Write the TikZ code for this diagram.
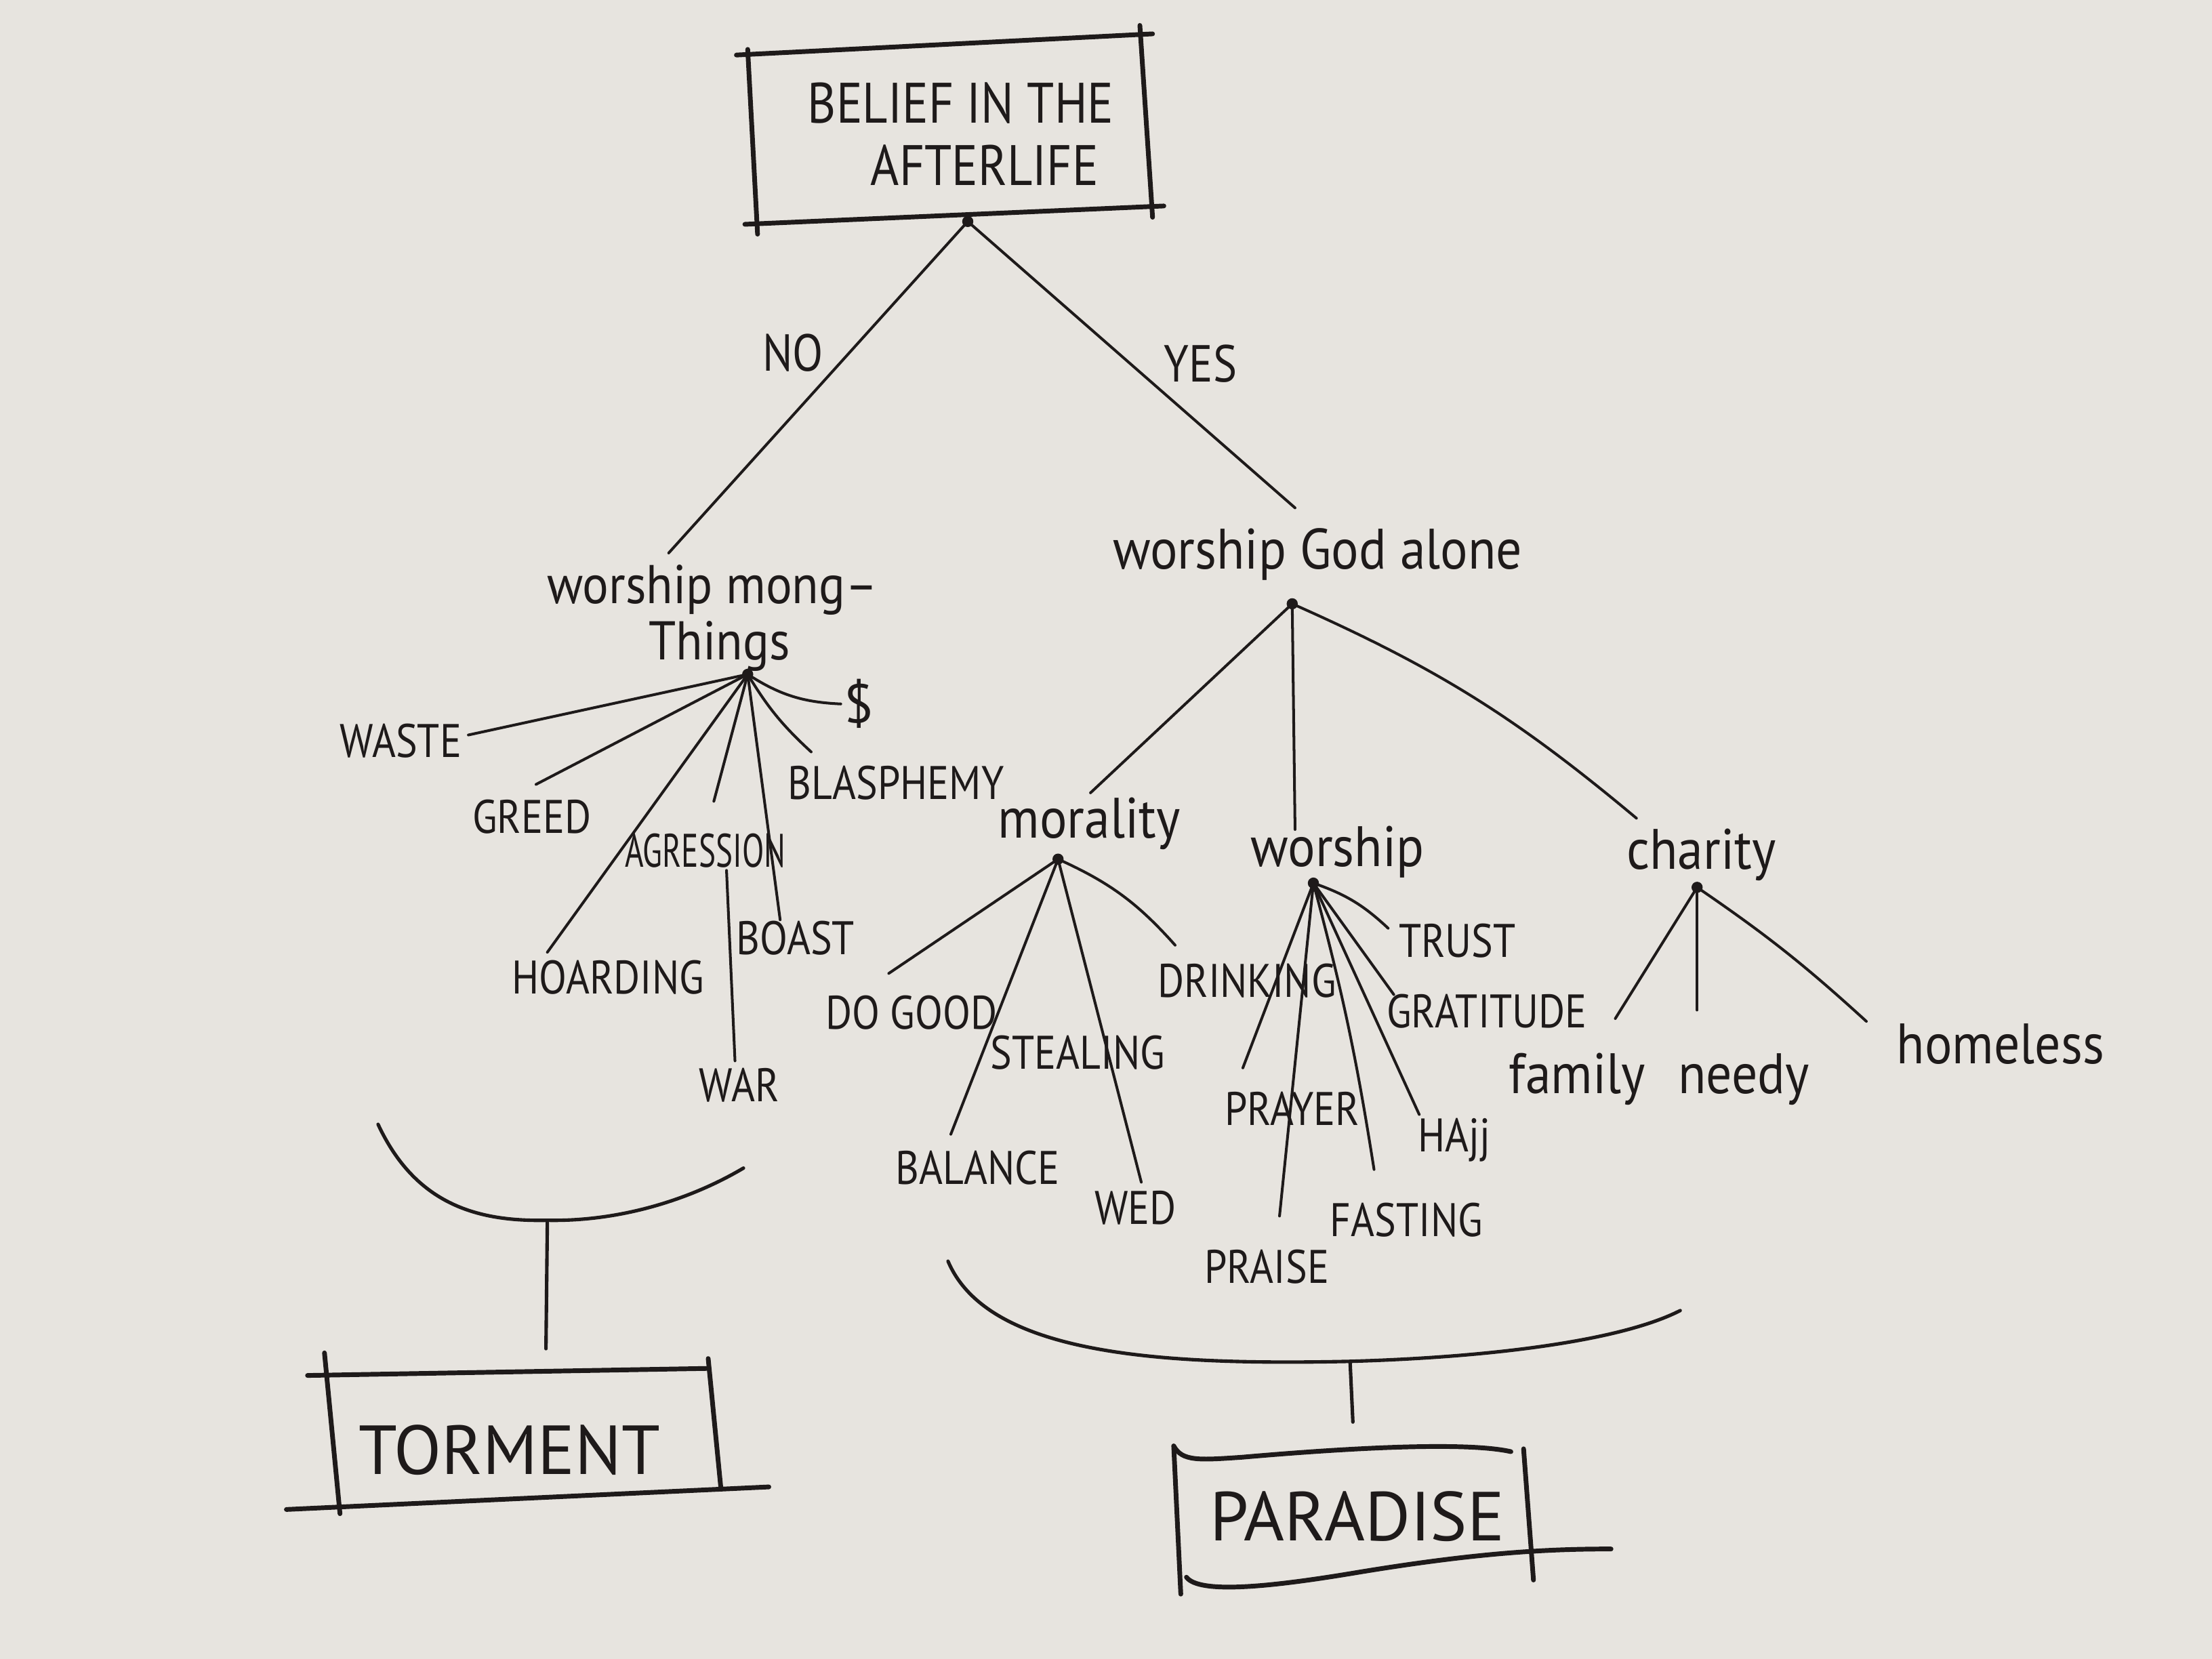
\documentclass[tikz,border=0pt]{standalone}
\usepackage{fontspec}
\setmainfont{PT Sans}
\newfontfamily\condA[FakeStretch=0.86]{PT Sans}
\newfontfamily\condB[FakeStretch=0.68]{PT Sans}
\newfontfamily\condL[FakeStretch=0.9]{PT Sans}
\definecolor{paper}{RGB}{231,228,223}
\definecolor{inkc}{RGB}{30,26,26}
\begin{document}
\begin{tikzpicture}[x=0.02cm,y=-0.02cm,
  conn/.style={draw=inkc,line width=1.1pt,line cap=round},
  frame/.style={draw=inkc,line width=1.9pt,line cap=round},
  brace/.style={draw=inkc,line width=1.4pt,line cap=round},
  hubdot/.style={circle,fill=inkc,inner sep=0pt,minimum size=4.5pt},
  caps/.style={text=inkc,inner sep=0pt,font=\condA\fontsize{19}{21}\selectfont},
  low/.style={text=inkc,inner sep=0pt,font=\condL\fontsize{23}{25}\selectfont},
  big/.style={text=inkc,inner sep=0pt,font=\fontsize{28}{30}\selectfont},
  ttl/.style={text=inkc,inner sep=0pt,font=\condA\fontsize{23}{25}\selectfont},
]
\fill[paper] (0,0) rectangle (1568,1176);
\useasboundingbox (0,0) rectangle (1568,1176);

% ---------- title box ----------
\node[ttl] (t1) at (681,73) {BELIEF IN THE};
\node[ttl] (t2) at (698,117) {AFTERLIFE};
\draw[frame] (522,39) -- (817,24);
\draw[frame] (530,35) -- (537,166);
\draw[frame] (808,18) -- (817,154);
\draw[frame] (528,159) -- (825,146);
\node[hubdot] (root) at (686,157) {};

% ---------- first split ----------
\coordinate (wmtIn) at (474,392);
\coordinate (wgaIn) at (918,360);
\draw[conn] (root.center) -- (wmtIn);
\draw[conn] (root.center) -- (wgaIn);
\node[caps,font=\condA\fontsize{21}{23}\selectfont] (no) at (562,250) {NO};
\node[caps,font=\condA\fontsize{21}{23}\selectfont] (yes) at (851,258) {YES};

% ---------- left branch ----------
\node[low,font=\condL\fontsize{22}{24}\selectfont] (wmt1) at (505,418) {worship mong–};
\node[low,font=\condL\fontsize{22}{24}\selectfont] (wmt2) at (510,458) {Things};
\node[hubdot] (hL) at (530,478) {};

\node[caps] (waste) at (284,525) {WASTE};
\node[caps] (greed) at (377,579) {GREED};
\node[caps] (hoard) at (431,693) {HOARDING};
\node[caps,font=\condB\fontsize{19}{21}\selectfont] (agr) at (500,603) {AGRESSION};
\node[caps] (war) at (524,769) {WAR};
\node[caps] (boast) at (564,665) {BOAST};
\node[caps] (blas) at (635,555) {BLASPHEMY};
\node[caps,font=\fontsize{22}{24}\selectfont] (dollar) at (609,499) {\$};

\coordinate (wasteIn) at (332,521);
\coordinate (greedIn) at (380,556);
\coordinate (hoardIn) at (388,675);
\coordinate (agrIn) at (506,568);
\coordinate (agrOut) at (515,617);
\coordinate (warIn) at (521,752);
\coordinate (boastIn) at (553,652);
\coordinate (blasIn) at (575,533);
\coordinate (dollarIn) at (596,499);

\draw[conn] (hL.center) -- (wasteIn);
\draw[conn] (hL.center) -- (greedIn);
\draw[conn] (hL.center) -- (hoardIn);
\draw[conn] (hL.center) -- (agrIn);
\draw[conn] (agrOut) -- (warIn);
\draw[conn] (hL.center) -- (boastIn);
\draw[conn] (hL.center) to[bend right=8] (blasIn);
\draw[conn] (hL.center) to[bend right=15] (dollarIn);

% ---------- right branch ----------
\node[low] (wga) at (934,393) {worship God alone};
\node[hubdot] (hR) at (916,428) {};

\node[low] (mor) at (772,584) {morality};
\node[low] (wor) at (948,604) {worship};
\node[low] (cha) at (1206,606) {charity};
\coordinate (morIn) at (773,562);
\coordinate (worIn) at (918,588);
\coordinate (chaIn) at (1160,580);
\draw[conn] (hR.center) -- (morIn);
\draw[conn] (hR.center) -- (worIn);
\draw[conn] (hR.center) to[bend left=8] (chaIn);

% morality children
\node[hubdot] (hM) at (750,609) {};
\node[caps] (dogood) at (646,718) {DO GOOD};
\node[caps] (steal) at (764,746) {STEALING};
\node[caps] (bal) at (693,828) {BALANCE};
\node[caps] (wed) at (805,856) {WED};
\node[caps] (drink) at (884,695) {DRINKING};
\coordinate (dogoodIn) at (630,690);
\coordinate (balIn) at (674,804);
\coordinate (wedIn) at (809,838);
\coordinate (drinkIn) at (833,670);
\draw[conn] (hM.center) -- (dogoodIn);
\draw[conn] (hM.center) -- (balIn);
\draw[conn] (hM.center) -- (wedIn);
\draw[conn] (hM.center) to[bend left=12] (drinkIn);

% worship children
\node[hubdot] (hW) at (931,626) {};
\node[caps] (trust) at (1033,667) {TRUST};
\node[caps] (grat) at (1054,717) {GRATITUDE};
\node[caps] (hajj) at (1031,808) {HAjj};
\node[caps] (fast) at (997,865) {FASTING};
\node[caps] (praise) at (898,898) {PRAISE};
\node[caps] (prayer) at (916,786) {PRAYER};
\coordinate (trustIn) at (984,658);
\coordinate (gratIn) at (988,705);
\coordinate (hajjIn) at (1006,790);
\coordinate (fastIn) at (974,829);
\coordinate (praiseIn) at (907,862);
\coordinate (prayerIn) at (881,757);
\draw[conn] (hW.center) to[bend left=12] (trustIn);
\draw[conn] (hW.center) -- (gratIn);
\draw[conn] (hW.center) -- (hajjIn);
\draw[conn] (hW.center) to[bend left=3] (fastIn);
\draw[conn] (hW.center) -- (praiseIn);
\draw[conn] (hW.center) -- (prayerIn);

% charity children
\node[hubdot] (hC) at (1203,629) {};
\node[low] (fam) at (1118,765) {family};
\node[low] (needy) at (1236,765) {needy};
\node[low] (home) at (1418,740) {homeless};
\coordinate (famIn) at (1145,722);
\coordinate (needyIn) at (1203,716);
\coordinate (homeIn) at (1323,724);
\draw[conn] (hC.center) -- (famIn);
\draw[conn] (hC.center) -- (needyIn);
\draw[conn] (hC.center) to[bend left=4] (homeIn);

% ---------- torment ----------
\coordinate (lbL) at (268,797);
\coordinate (lbM) at (388,865);
\coordinate (lbR) at (527,828);
\draw[brace] (lbL) .. controls (295,855) and (340,866) .. (lbM)
                  .. controls (440,866) and (490,850) .. (lbR);
\coordinate (tormIn) at (387,956);
\draw[brace] (lbM) -- (tormIn);
\node[big] (torm) at (361,1028) {TORMENT};
\draw[frame] (218,975) -- (502,970);
\draw[frame] (230,959) -- (241,1073);
\draw[frame] (502,963) -- (511,1055);
\draw[frame] (203,1070) -- (545,1054);

% ---------- paradise ----------
\coordinate (rbL) at (672,894);
\coordinate (rbM) at (957,965);
\coordinate (rbR) at (1191,929);
\draw[brace] (rbL) .. controls (700,960) and (820,968) .. (rbM)
                  .. controls (1060,962) and (1150,950) .. (rbR);
\coordinate (parIn) at (959,1008);
\draw[brace] (rbM) -- (parIn);
\node[big] (par) at (962,1075) {PARADISE};
\draw[frame] (832,1025) .. controls (838,1036) and (850,1035) .. (880,1033)
             .. controls (960,1026) and (1040,1022) .. (1071,1029);
\draw[frame] (832,1025) -- (837,1130);
\draw[frame] (1080,1027) -- (1087,1120);
\draw[frame] (841,1118) .. controls (850,1130) and (900,1125) .. (960,1115)
             .. controls (1050,1100) and (1100,1098) .. (1142,1098);
\end{tikzpicture}
\end{document}
